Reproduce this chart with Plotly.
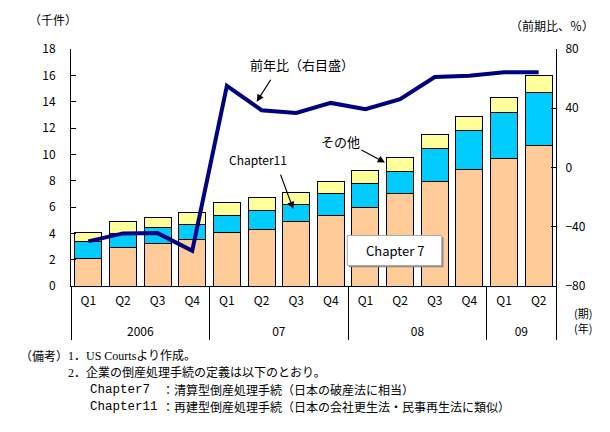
import plotly.graph_objects as go

years = ["2006"] * 4 + ["07"] * 4 + ["08"] * 4 + ["09"] * 2
quarters = ["Q1", "Q2", "Q3", "Q4"] * 3 + ["Q1", "Q2"]

chapter7 = [2.12, 2.96, 3.26, 3.57, 4.10, 4.32, 4.88, 5.39, 5.99, 7.06, 7.97, 8.88, 9.71, 10.70]
chapter11 = [1.29, 1.06, 1.22, 1.13, 1.29, 1.45, 1.34, 1.67, 1.82, 1.67, 2.50, 2.96, 3.49, 4.02]
others = [0.69, 0.86, 0.75, 0.91, 0.93, 0.98, 0.91, 0.91, 0.94, 1.06, 1.06, 1.06, 1.14, 1.29]
yoy = [-49.9, -44.5, -44.3, -56.2, 55.1, 38.7, 36.8, 43.6, 39.3, 46.1, 61.1, 62.0, 64.3, 64.3]

FONT = "Noto Sans CJK JP"
SERIF = "Liberation Serif, Noto Sans CJK JP"
MONO = "Liberation Mono"
W, H = 610, 432
L, R, T, B = 71, 556, 49, 286.3


def px(x):
    return (x - L) / (R - L)


def py(y):
    return (B - y) / (B - T)


# outer level labels pushed down one line so they sit like the reference's year row
year_labels = ["<br>" + y for y in years]
xcat = [year_labels, quarters]
fig = go.Figure()
line_style = dict(color="black", width=1)
fig.add_trace(go.Bar(x=xcat, y=chapter7, name="Chapter 7",
                     marker=dict(color="#FFCC99", line=line_style)))
fig.add_trace(go.Bar(x=xcat, y=chapter11, name="Chapter11",
                     marker=dict(color="#00CCFF", line=line_style)))
fig.add_trace(go.Bar(x=xcat, y=others, name="その他",
                     marker=dict(color="#FFFF99", line=line_style)))
fig.add_trace(go.Scatter(x=xcat, y=yoy, yaxis="y2", mode="lines", name="前年比",
                         line=dict(color="#000080", width=4)))

ann = []


def text(x, y, s, anchor="center", size=12, family=FONT):
    ann.append(dict(x=px(x), y=py(y), xref="paper", yref="paper", text=s,
                    showarrow=False, xanchor=anchor, yanchor="middle",
                    font=dict(size=size, color="black", family=family)))


def arrow(x0, y0, x1, y1):
    ann.append(dict(x=px(x1), y=py(y1), xref="paper", yref="paper", text="",
                    showarrow=True, ax=x0 - x1, ay=y0 - y1, axref="pixel", ayref="pixel",
                    arrowhead=2, arrowsize=1.2, arrowwidth=1.2, arrowcolor="black"))


text(53, 19, "（千件）")
text(552, 25, "（前期比、％）")
text(302, 65, "前年比（右目盛）", size=13)
arrow(271.7, 78.3, 256.7, 101.7)
text(340, 141.5, "その他", size=13)
arrow(360, 149.3, 385, 162.7)
text(258, 160, "Chapter11", size=12)
arrow(280, 173.3, 293.3, 209.3)
text(394.5, 250.7, "Chapter 7", size=13)
text(583, 313, "(期)", size=11)
text(583, 328, "(年)", size=11)

text(18, 356, "（備考）", anchor="left")
text(66, 356, "1．US Courtsより作成。", anchor="left", family=SERIF, size=12)
text(66, 373, "2．企業の倒産処理手続の定義は以下のとおり。", anchor="left", family=SERIF, size=12)
text(88, 390, "Chapter7", anchor="left", family=MONO, size=12.5)
text(160, 390, "：清算型倒産処理手続（日本の破産法に相当）", anchor="left", size=12)
text(88, 407, "Chapter11", anchor="left", family=MONO, size=12.5)
text(160, 407, "：再建型倒産処理手続（日本の会社更生法・民事再生法に類似）", anchor="left", size=12)

shapes = [
    dict(type="rect", xref="paper", yref="paper", x0=px(349), x1=px(443.5), y0=py(237.5), y1=py(267.5),
         fillcolor="#8a8a8a", line=dict(width=0), layer="above"),
    dict(type="rect", xref="paper", yref="paper", x0=px(347.3), x1=px(441.7), y0=py(235.7), y1=py(265.7),
         fillcolor="white", line=dict(color="#aaaaaa", width=1), layer="above"),
]

fig.update_layout(
    width=W, height=H,
    margin=dict(l=L, r=W - R, t=T, b=H - B, pad=0),
    paper_bgcolor="white", plot_bgcolor="white",
    barmode="stack", bargap=0.22,
    showlegend=False,
    font=dict(family=FONT, size=12, color="black"),
    xaxis=dict(type="multicategory", showline=True, linecolor="black", linewidth=1,
               ticks="", showgrid=False, showdividers=True, dividercolor="black",
               dividerwidth=1, tickfont=dict(size=12), ticklabelstandoff=4),
    yaxis=dict(range=[0, 18], dtick=2, showline=True, linecolor="black", linewidth=1,
               ticks="inside", ticklen=5, tickcolor="black", showgrid=False, zeroline=False,
               ticklabelstandoff=12, tickfont=dict(size=12)),
    yaxis2=dict(range=[-80, 80], dtick=40, overlaying="y", side="right", showline=True,
                linecolor="black", linewidth=1, ticks="inside", ticklen=5, tickcolor="black",
                showgrid=False, zeroline=False, ticklabelstandoff=6, tickfont=dict(size=12)),
    annotations=ann,
    shapes=shapes,
)

fig.write_html("out.html")
